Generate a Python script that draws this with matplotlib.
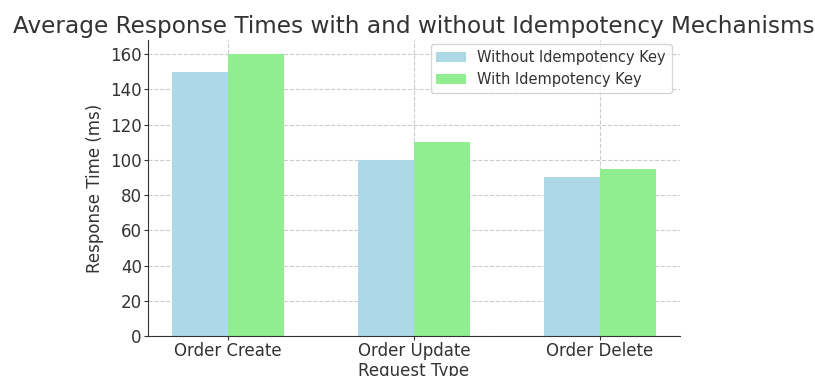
import numpy as np
import matplotlib.pyplot as plt

# request types and mean response times (ms)
request_types = ["Order Create", "Order Update", "Order Delete"]
without_key = [150, 100, 90]
with_key = [160, 110, 95]
y_ticks = [0, 20, 40, 60, 80, 100, 120, 140, 160]

text_color = "#333333"

x = np.arange(len(request_types))
width = 0.3

fig = plt.figure(figsize=(8.15, 3.76), dpi=100)
ax = fig.add_axes([148/815, 40/376, 532/815, 296/376])

ax.bar(x - width/2, without_key, width, color="lightblue", label="Without Idempotency Key", zorder=2)
ax.bar(x + width/2, with_key, width, color="lightgreen", label="With Idempotency Key", zorder=2)

ax.set_xticks(x)
ax.set_xticklabels(request_types, fontsize=12)
ax.set_yticks(y_ticks)
ax.tick_params(axis="both", labelsize=12, length=3, pad=1.5, colors=text_color)
ax.set_xlabel("Request Type", fontsize=12, labelpad=1, color=text_color)
ax.set_ylabel("Response Time (ms)", fontsize=12, color=text_color)
ax.set_title("Average Response Times with and without Idempotency Mechanisms",
             fontsize=16.7, color=text_color, pad=5)

ax.grid(True, linestyle="--", color="#cccccc", linewidth=0.8, zorder=0)
ax.spines["top"].set_visible(False)
ax.spines["right"].set_visible(False)
ax.spines["left"].set_color(text_color)
ax.spines["bottom"].set_color(text_color)
leg = ax.legend(loc="upper right", fontsize=10.5, bbox_to_anchor=(0.998, 1.01))
for t in leg.get_texts():
    t.set_color(text_color)

fig.savefig("out.png", dpi=100)
